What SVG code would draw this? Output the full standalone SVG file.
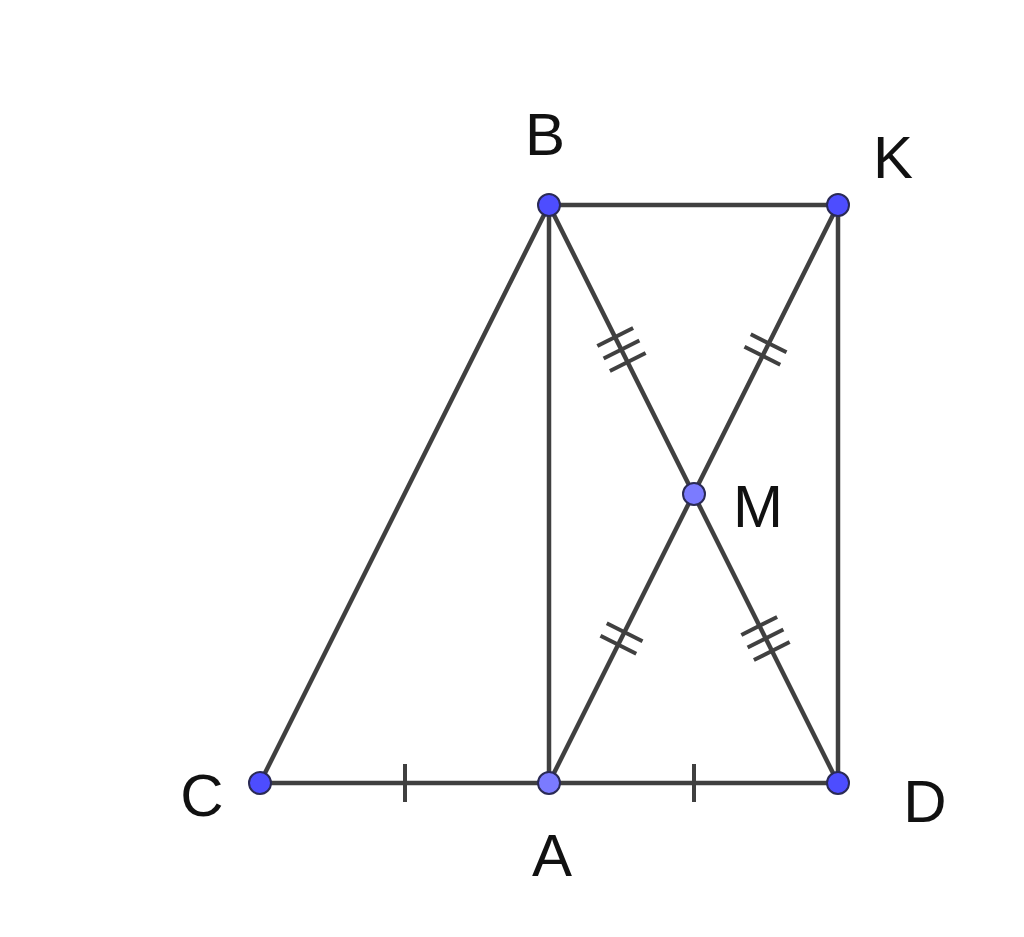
<svg xmlns="http://www.w3.org/2000/svg" width="1024" height="937" viewBox="0 0 1024 937">
<style>
.seg{stroke:#404040;stroke-width:4.5;stroke-linecap:round;fill:none}
.tick{stroke:#404040;stroke-width:4;fill:none}
.pt{fill:#4d4dff;stroke:#2a2a55;stroke-width:2}
.pt2{fill:#7b7bff;stroke:#2a2a55;stroke-width:2}
.lbl{font-family:"Liberation Sans",Arial,sans-serif;font-size:60px;fill:#111;text-anchor:middle}
</style>
<rect width="1024" height="937" fill="#fff"/>
<g id="connectors">
<line class="seg" x1="260" y1="783" x2="549" y2="205"/>
<line class="seg" x1="260" y1="783" x2="838" y2="783"/>
<line class="seg" x1="549" y1="205" x2="549" y2="783"/>
<line class="seg" x1="549" y1="205" x2="838" y2="205"/>
<line class="seg" x1="838" y1="205" x2="838" y2="783"/>
<line class="seg" x1="549" y1="205" x2="838" y2="783"/>
<line class="seg" x1="838" y1="205" x2="549" y2="783"/>
<line class="tick" x1="405" y1="764" x2="405" y2="802"/>
<line class="tick" x1="694" y1="764" x2="694" y2="802"/>
<g transform="translate(621.5,349.5) rotate(63.43)">
<line class="tick" x1="-14" y1="-20" x2="-14" y2="20"/>
<line class="tick" x1="0" y1="-20" x2="0" y2="20"/>
<line class="tick" x1="14" y1="-20" x2="14" y2="20"/>
</g>
<g transform="translate(765.5,638.5) rotate(63.43)">
<line class="tick" x1="-14" y1="-20" x2="-14" y2="20"/>
<line class="tick" x1="0" y1="-20" x2="0" y2="20"/>
<line class="tick" x1="14" y1="-20" x2="14" y2="20"/>
</g>
<g transform="translate(765.5,349.5) rotate(116.57)">
<line class="tick" x1="-7" y1="-20" x2="-7" y2="20"/>
<line class="tick" x1="7" y1="-20" x2="7" y2="20"/>
</g>
<g transform="translate(621.5,638.5) rotate(116.57)">
<line class="tick" x1="-7" y1="-20" x2="-7" y2="20"/>
<line class="tick" x1="7" y1="-20" x2="7" y2="20"/>
</g>
</g>
<g id="B"><circle class="pt" cx="549" cy="205" r="11"/><text class="lbl" x="545" y="155">B</text></g>
<g id="K"><circle class="pt" cx="838" cy="205" r="11"/><text class="lbl" x="893" y="178">K</text></g>
<g id="M"><circle class="pt2" cx="694" cy="494" r="11"/><text class="lbl" x="758" y="527">M</text></g>
<g id="C"><circle class="pt" cx="260" cy="783" r="11"/><text class="lbl" x="202" y="816">C</text></g>
<g id="A"><circle class="pt2" cx="549" cy="783" r="11"/><text class="lbl" x="552" y="876">A</text></g>
<g id="D"><circle class="pt" cx="838" cy="783" r="11"/><text class="lbl" x="925" y="822">D</text></g>
</svg>
